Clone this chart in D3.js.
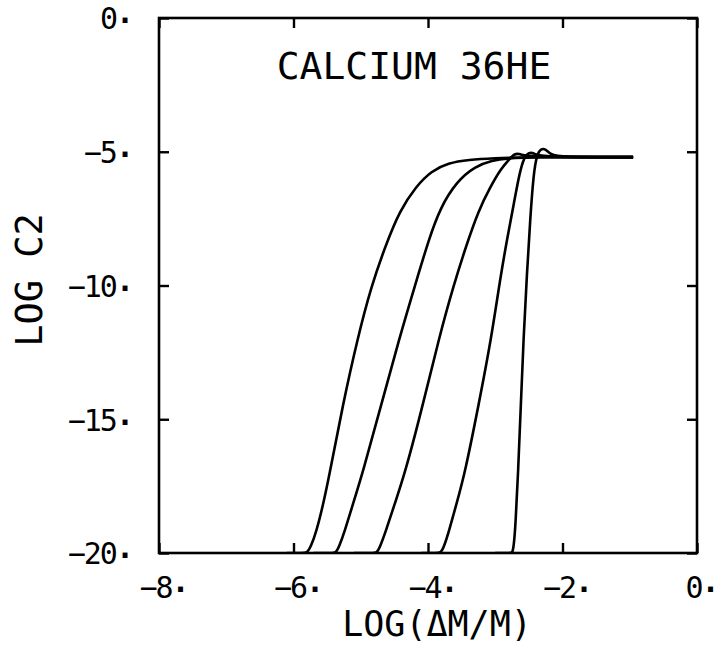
<!DOCTYPE html>
<html>
<head>
<meta charset="utf-8">
<script src="https://cdn.jsdelivr.net/npm/d3@7"></script>
<style>
  body { margin: 0; background: #fff; }
  text { font-family: "DejaVu Sans Mono", monospace; fill: #000; }
</style>
</head>
<body>
<div id="chart"></div>
<script>
// labels
const title = "CALCIUM 36HE";
const xLabel = "LOG(\u0394M/M)";
const yLabel = "LOG C2";
const xTicks = [-8, -6, -4, -2, 0];
const yTicks = [0, -5, -10, -15, -20];

// curves: [log(dM/M), log C2]
const curve1 = [[-6.1, -20], [-5.86, -20], [-5.80, -20], [-5.74, -19.75], [-5.66, -19.2], [-5.56, -18.2],
  [-5.46, -17.0], [-5.27, -14.5], [-5.05, -12.0], [-4.84, -10.0], [-4.63, -8.5], [-4.42, -7.2],
  [-4.18, -6.3], [-3.95, -5.72], [-3.70, -5.42], [-3.40, -5.3], [-3.0, -5.24], [-2.6, -5.2], [-0.95, -5.2]];
const curve2 = [[-5.7, -20], [-5.43, -20], [-5.37, -20], [-5.32, -19.75], [-5.24, -19.2], [-5.12, -18.2],
  [-4.97, -17.0], [-4.70, -14.5], [-4.43, -12.0], [-4.17, -9.8], [-3.99, -8.3], [-3.82, -7.1],
  [-3.57, -6.1], [-3.30, -5.55], [-3.05, -5.32], [-2.8, -5.24], [-2.5, -5.2], [-0.95, -5.2]];
const curve3 = [[-5.1, -20], [-4.82, -20], [-4.76, -20], [-4.71, -19.75], [-4.63, -19.2], [-4.50, -18.2],
  [-4.34, -17.0], [-4.08, -14.5], [-3.84, -12.0], [-3.62, -10.0], [-3.43, -8.5], [-3.25, -7.2],
  [-3.07, -6.3], [-2.92, -5.65], [-2.80, -5.3], [-2.71, -5.06], [-2.63, -5.08], [-2.53, -5.2], [-0.95, -5.2]];
const curve4 = [[-4.1, -20], [-3.87, -20], [-3.81, -20], [-3.76, -19.75], [-3.69, -19.2], [-3.58, -18.2],
  [-3.45, -17.0], [-3.25, -14.5], [-3.06, -12.0], [-2.93, -9.8], [-2.82, -8.2], [-2.72, -6.9],
  [-2.64, -5.8], [-2.57, -5.2], [-2.50, -5.02], [-2.42, -5.05], [-2.35, -5.2], [-0.95, -5.2]];
const curve5 = [[-3.0, -20], [-2.78, -20], [-2.74, -20], [-2.72, -19.6], [-2.70, -19.0], [-2.66, -17.0],
  [-2.62, -14.5], [-2.58, -12.0], [-2.53, -9.6], [-2.48, -7.5], [-2.43, -5.8], [-2.38, -5.1],
  [-2.32, -4.88], [-2.25, -4.9], [-2.18, -5.1], [-2.05, -5.2], [-0.95, -5.2]];
const curves = [curve1, curve2, curve3, curve4, curve5];

const W = 727, H = 645;
const mLeft = 159, mRight = 697, mTop = 18, mBottom = 553;

const svg = d3.select("#chart").append("svg")
  .attr("width", W).attr("height", H);

const x = d3.scaleLinear().domain([-8, 0]).range([mLeft, mRight]);
const y = d3.scaleLinear().domain([0, -20]).range([mTop, mBottom]);

svg.append("clipPath").attr("id", "clip")
  .append("rect").attr("x", mLeft).attr("y", mTop)
  .attr("width", mRight - mLeft).attr("height", mBottom - mTop);

// curves
const line = d3.line()
  .x(d => x(d[0])).y(d => y(d[1]))
  .curve(d3.curveBasis);

svg.append("g").attr("clip-path", "url(#clip)")
  .selectAll("path").data(curves).enter()
  .append("path")
  .attr("d", line)
  .attr("fill", "none")
  .attr("stroke", "#000")
  .attr("stroke-width", 2.6)
  .attr("stroke-linejoin", "round");

// tick labels with the raised plotter dot
const dotLabel = (sel) => {
  sel.each(function(d) {
    const t = d3.select(this);
    t.text(null);
    t.append("tspan").text(d < 0 ? "\u2212" + Math.abs(d) : d);
    t.append("tspan").attr("dy", "-0.2em").attr("font-weight", "bold").text(".");
  });
};

const gx = svg.append("g").attr("transform", `translate(0,${mBottom})`)
  .call(d3.axisBottom(x).tickValues(xTicks).tickSizeInner(-10).tickSizeOuter(0).tickPadding(24));
const gy = svg.append("g").attr("transform", `translate(${mLeft},0)`)
  .call(d3.axisLeft(y).tickValues(yTicks).tickSizeInner(-10).tickSizeOuter(0).tickPadding(27));
const gt = svg.append("g").attr("transform", `translate(0,${mTop})`)
  .call(d3.axisTop(x).tickValues(xTicks).tickSizeInner(-10).tickSizeOuter(0).tickFormat(""));
const gr = svg.append("g").attr("transform", `translate(${mRight},0)`)
  .call(d3.axisRight(y).tickValues(yTicks).tickSizeInner(-10).tickSizeOuter(0).tickFormat(""));

[gx, gy, gt, gr].forEach(g => {
  g.select(".domain").remove();
  g.selectAll(".tick line").attr("stroke", "#000").attr("stroke-width", 2.4);
});

gx.selectAll(".tick text")
  .attr("font-size", 30).attr("font-family", null)
  .attr("letter-spacing", -2).attr("dx", 4)
  .call(dotLabel);
gy.selectAll(".tick text")
  .attr("font-size", 30).attr("font-family", null)
  .attr("letter-spacing", -2).attr("dy", "0.36em")
  .call(dotLabel);

// frame
svg.append("rect")
  .attr("x", mLeft).attr("y", mTop)
  .attr("width", mRight - mLeft).attr("height", mBottom - mTop)
  .attr("fill", "none").attr("stroke", "#000").attr("stroke-width", 2.6);

// title and axis titles
svg.append("text")
  .attr("x", 414).attr("y", 79)
  .attr("text-anchor", "middle").attr("font-size", 38)
  .text(title);

svg.append("text")
  .attr("x", 437).attr("y", 636)
  .attr("text-anchor", "middle").attr("font-size", 35)
  .text(xLabel);

svg.append("text")
  .attr("transform", "translate(42,280) rotate(-90)")
  .attr("text-anchor", "middle").attr("font-size", 37)
  .text(yLabel);
</script>
</body>
</html>
